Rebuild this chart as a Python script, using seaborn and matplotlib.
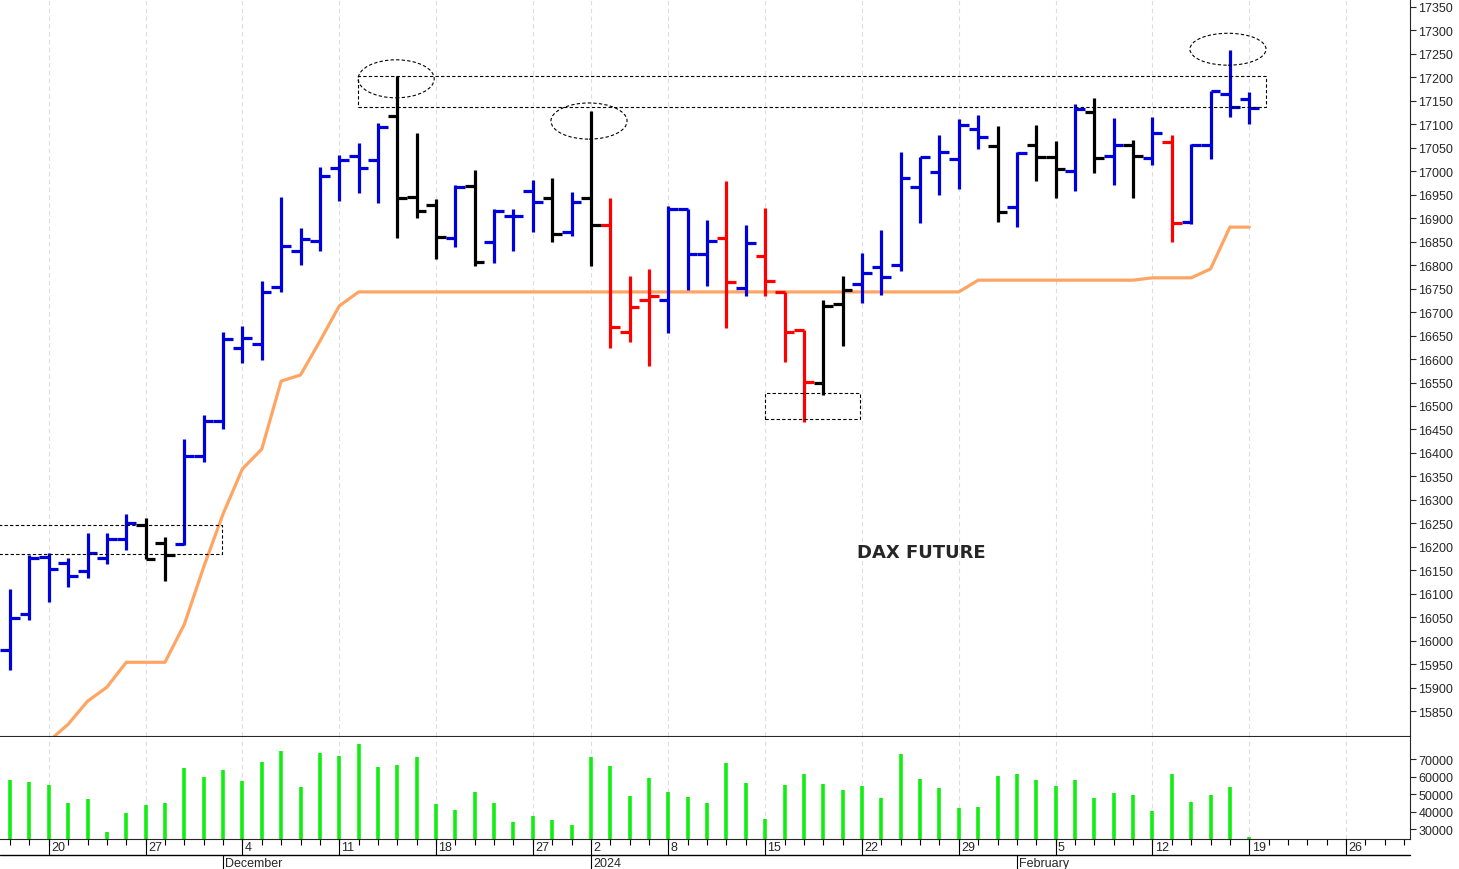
import numpy as np
import pandas as pd
import matplotlib
matplotlib.use("Agg")
import matplotlib.pyplot as plt
import matplotlib.transforms as mtrans
from matplotlib.patches import Rectangle, Ellipse
import seaborn as sns

# ---- data ----
opens = [15980, 16057, 16178, 16165, 16148, 16176, 16216, 16246, 16208, 16206,
         16393, 16468, 16623, 16632, 16753, 16830, 16851, 17007, 17032, 17024,
         17118, 16945, 16928, 16858, 16969, 16849, 16905, 16958, 16943, 16871,
         16943, 16885, 16657, 16726, 16726, 16920, 16824, 16858, 16751, 16819,
         16743, 16662, 16549, 16717, 16760, 16796, 16800, 16966, 16998, 17026,
         17090, 17054, 16924, 17056, 17030, 17001, 17126, 17032, 17056, 17028,
         17062, 16892, 17056, 17165, 17154]
highs = [16110, 16182, 16187, 16176, 16229, 16229, 16270, 16261, 16221, 16430,
         16481, 16657, 16670, 16766, 16945, 16879, 17009, 17035, 17060, 17103,
         17203, 17081, 16941, 16971, 17003, 16920, 16920, 16981, 16986, 16956,
         17128, 16943, 16777, 16792, 16926, 16920, 16896, 16979, 16885, 16922,
         16743, 16662, 16726, 16777, 16826, 16875, 17041, 17030, 17077, 17111,
         17120, 17096, 17041, 17099, 17064, 17143, 17156, 17113, 17067, 17116,
         17077, 17058, 17171, 17258, 17169]
lows = [15937, 16044, 16082, 16114, 16133, 16163, 16193, 16174, 16127, 16204,
        16380, 16451, 16591, 16598, 16743, 16800, 16830, 16937, 16954, 16932,
        16858, 16900, 16813, 16839, 16798, 16805, 16830, 16871, 16849, 16862,
        16798, 16623, 16636, 16585, 16655, 16747, 16755, 16666, 16734, 16734,
        16594, 16466, 16523, 16628, 16719, 16736, 16787, 16890, 16949, 16962,
        17047, 16892, 16881, 16979, 16943, 16958, 16996, 16971, 16943, 17013,
        16849, 16888, 17026, 17116, 17101]
closes = [16048, 16176, 16153, 16138, 16187, 16216, 16251, 16174, 16182, 16393,
          16468, 16643, 16645, 16743, 16841, 16856, 16990, 17024, 17007, 17094,
          16943, 16915, 16860, 16966, 16807, 16915, 16905, 16934, 16866, 16934,
          16885, 16668, 16711, 16734, 16920, 16824, 16851, 16764, 16847, 16766,
          16657, 16551, 16713, 16747, 16783, 16775, 16986, 17030, 17041, 17099,
          17073, 16913, 17039, 17030, 17005, 17133, 17028, 17056, 17032, 17081,
          16890, 17056, 17171, 17137, 17135]
bar_colors = list("BBBBBBBKKBBBBBBBBBBBKKKBKBBBKBKRRRBBBRBRRRKKBBBBBBBKBKKBKBKBRBBBB")
trend = [15700, 15740, 15786, 15822, 15871, 15901, 15954, 15954, 15954, 16035,
         16157, 16270, 16366, 16408, 16553, 16566, 16638, 16713] + [16743] * 32 + \
        [16768] * 9 + [16773, 16773, 16773, 16792, 16881, 16881]
volume = [58200, 56900, 55400, 45000, 47100, 28500, 39000, 43500, 44600, 65100,
          59700, 63600, 57400, 68500, 74500, 54200, 73400, 71900, 78800, 65500,
          66600, 71100, 44100, 41100, 51400, 45000, 33900, 37300, 35100, 32100,
          71100, 66100, 48800, 59100, 51400, 48200, 45000, 67700, 56500, 36000,
          55400, 61700, 55900, 52500, 54600, 47800, 72800, 58700, 53700, 41800,
          42400, 60200, 61700, 58000, 54400, 58000, 48000, 50300, 49500, 40500,
          61700, 45600, 49200, 54200, 25300]

holidays = ["2023-12-25", "2023-12-26", "2024-01-01"]
all_days = pd.bdate_range("2023-11-16", "2024-03-01")
dates = [d for d in all_days if d.strftime("%Y-%m-%d") not in holidays]
month_labels = {"2023-12-01": "December", "2024-01-02": "2024", "2024-02-01": "February"}

cmap = {"B": "#0000dd", "K": "#000000", "R": "#ff0000"}
n = len(opens)
idx = np.arange(n)

sns.set_style("white")
plt.rcParams["font.family"] = ["Liberation Sans", "DejaVu Sans"]

fig = plt.figure(figsize=(14.59, 8.70), dpi=100)
ax = fig.add_axes([0, 0.1529, 0.9664, 0.8471])
axv = fig.add_axes([0, 0.0345, 0.9664, 0.1172], sharex=ax)

# week starts (first trading day of each week)
week_start = [i for i, d in enumerate(dates) if i > 0 and d.isocalendar()[1] != dates[i - 1].isocalendar()[1]]

for a in (ax, axv):
    for i in week_start:
        a.axvline(i, color="#dcdce4", lw=0.8, ls=(0, (4, 3)), zorder=0)

# price bars
cols = [cmap[c] for c in bar_colors]
ax.vlines(idx, lows, highs, colors=cols, lw=2.3, zorder=3)
ax.hlines(opens, idx - 0.5, idx, colors=cols, lw=2.3, zorder=3)
ax.hlines(closes, idx, idx + 0.5, colors=cols, lw=2.3, zorder=3)

sns.lineplot(x=idx, y=trend, ax=ax, color="#ffa563", lw=2.3, zorder=2)

# annotations
box = dict(fill=False, ec="black", lw=0.8, ls=(0, (3, 2)), zorder=4)
ax.add_patch(Rectangle((-0.6, 16184), 11.55, 62, **box))
ax.add_patch(Rectangle((17.98, 17137), 46.9, 66, **box))
ax.add_patch(Rectangle((39.0, 16472), 4.9, 55, **box))
for cx, cy, h in [(19.94, 17197, 81), (29.9, 17107, 77), (62.9, 17260, 68)]:
    ax.add_patch(Ellipse((cx, cy), 3.93, h, **box))
ax.text(47.06, 16189, "DAX FUTURE", fontsize=13, fontweight="bold",
        family=["DejaVu Sans"], ha="center", va="center")

ax.set_xlim(-0.52, 72.3)
ax.set_ylim(15797, 17367)
ax.yaxis.tick_right()
ax.set_yticks(np.arange(15850, 17351, 50))
ax.tick_params(axis="y", right=True, labelsize=9, length=4, direction="out", pad=2)
ax.tick_params(axis="x", bottom=False, labelbottom=False)
for s in ("top", "left"):
    ax.spines[s].set_visible(False)

# volume
axv.vlines(idx, 0, volume, colors="#11ee11", lw=2.6)
axv.set_ylim(24300, 82570)
axv.yaxis.tick_right()
axv.set_yticks(np.arange(30000, 70001, 10000))
axv.tick_params(axis="y", right=True, labelsize=9, length=4, direction="out", pad=2)
axv.set_xticks(np.arange(0, 73))
axv.tick_params(axis="x", bottom=True, length=4, direction="out", labelbottom=False,
                width=0.8, color="black")
for s in ("top", "left"):
    axv.spines[s].set_visible(False)

# date rows below the volume panel
tr = mtrans.blended_transform_factory(axv.transData, fig.transFigure)
fig.add_artist(plt.Line2D([0, 0.9664], [14 / 870, 14 / 870], color="black", lw=1))
for i in week_start:
    fig.add_artist(plt.Line2D([i, i], [14 / 870, 30 / 870], transform=tr, color="black", lw=0.8))
    fig.text(i + 0.12, 22 / 870, str(dates[i].day), transform=tr, fontsize=9,
             ha="left", va="center")
for i, d in enumerate(dates):
    key = d.strftime("%Y-%m-%d")
    if key in month_labels:
        fig.add_artist(plt.Line2D([i, i], [0, 14 / 870], transform=tr, color="black", lw=0.8))
        fig.text(i + 0.12, 6 / 870, month_labels[key], transform=tr, fontsize=9,
                 ha="left", va="center")

fig.savefig("out.png", dpi=100)
